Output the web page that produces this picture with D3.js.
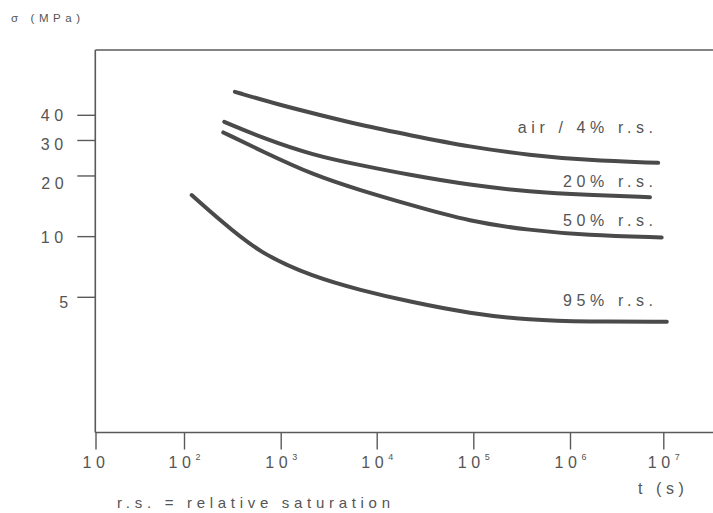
<!DOCTYPE html>
<html>
<head>
<meta charset="utf-8">
<script src="https://cdn.jsdelivr.net/npm/d3@7"></script>
<style>
  html, body { margin: 0; padding: 0; background: #fff; }
  svg { display: block; font-family: "Liberation Sans", Arial, sans-serif; }
  .lbl { fill: #555; letter-spacing: 4.6px; }
</style>
</head>
<body>
<svg id="chart" width="713" height="513"></svg>
<script>
// Creep strength σ versus time t for different relative saturations
const seriesNames = ["air / 4% r.s.", "20% r.s.", "50% r.s.", "95% r.s."];

const airTime   = [336, 984, 2570, 6700, 22100, 92500, 385000, 1.51e6, 8.8e6];
const airStress = [52.0, 44.7, 39.9, 35.6, 31.7, 27.7, 25.2, 23.8, 23.1];

const rs20Time   = [261, 661, 2190, 6700, 22100, 92500, 385000, 1.51e6, 7.2e6];
const rs20Stress = [36.9, 30.6, 25.2, 22.5, 20.1, 17.9, 16.6, 16.0, 15.6];

const rs50Time   = [255, 661, 2190, 6700, 22100, 92500, 385000, 1.51e6, 9.6e6];
const rs50Stress = [32.7, 26.2, 20.1, 16.9, 14.3, 11.8, 10.7, 10.1, 9.85];

const rs95Time   = [120, 236, 611, 2190, 6700, 22100, 92500, 385000, 1.51e6, 1.09e7];
const rs95Stress = [16.0, 12.0, 8.2, 6.28, 5.40, 4.72, 4.13, 3.83, 3.76, 3.76];

const xTickValues = [1e1, 1e2, 1e3, 1e4, 1e5, 1e6, 1e7];
const xTickExponents = ["", "2", "3", "4", "5", "6", "7"];
const yTickValues = [5, 10, 20, 30, 40];

const series = [
  { name: seriesNames[0], t: airTime,  s: airStress },
  { name: seriesNames[1], t: rs20Time, s: rs20Stress },
  { name: seriesNames[2], t: rs50Time, s: rs50Stress },
  { name: seriesNames[3], t: rs95Time, s: rs95Stress }
];

const svg = d3.select("#chart");

// frame of the plotting area
const frameLeft = 95.3, frameTop = 50, frameBottom = 432.5, frameRight = 713;

// hand-ruled log axis: decades are not perfectly even
const x = d3.scaleLog()
  .domain(xTickValues)
  .range([95.5, 184, 280.7, 376.7, 473.3, 570, 663.3]);

const yRef = d3.scaleLog().domain([5, 40]).range([296.8, 114.8]);
const y = d3.scaleLog()
  .domain([yRef.invert(frameBottom), yRef.invert(frameTop)])
  .range([frameBottom, frameTop]);

const axisColor = "#5a5a5a";

// top border line
svg.append("line")
  .attr("x1", frameLeft).attr("x2", frameRight)
  .attr("y1", frameTop).attr("y2", frameTop)
  .attr("stroke", axisColor).attr("stroke-width", 1.6);

// bottom axis
const gx = svg.append("g")
  .attr("transform", `translate(0,${frameBottom})`)
  .call(d3.axisBottom(x).tickValues(xTickValues).tickSize(17).tickSizeOuter(0).tickFormat(() => ""));
gx.select(".domain").attr("d", `M${frameLeft},0H${frameRight}`).attr("stroke", axisColor).attr("stroke-width", 1.6);
gx.selectAll(".tick line").attr("stroke", axisColor).attr("stroke-width", 1.4);
gx.selectAll(".tick text").remove();
gx.selectAll(".tick").each(function(d, i) {
  const txt = d3.select(this).append("text")
    .attr("class", "lbl")
    .attr("y", 35.5)
    .attr("text-anchor", "middle")
    .style("font-size", "16px");
  txt.append("tspan").text("10");
  if (xTickExponents[i]) {
    txt.append("tspan")
      .attr("dy", -8.5)
      .style("font-size", "9px")
      .style("letter-spacing", "0px")
      .text(xTickExponents[i]);
  }
});

// left axis
const yLabelNudge = { 40: [0, 1], 30: [0, 4], 20: [0.5, 7.5], 10: [0, 1], 5: [5, 6] };
const gy = svg.append("g")
  .attr("transform", `translate(${frameLeft},0)`)
  .call(d3.axisLeft(y).tickValues(yTickValues).tickSize(18).tickSizeOuter(0).tickPadding(9.5).tickFormat(d3.format("d")));
gy.select(".domain").attr("d", `M0,${frameTop}V${frameBottom}`).attr("stroke", axisColor).attr("stroke-width", 1.6);
gy.selectAll(".tick line").attr("stroke", axisColor).attr("stroke-width", 1.4);
gy.selectAll(".tick text")
  .attr("class", "lbl")
  .attr("fill", null)
  .style("font-size", "16px")
  .attr("transform", d => `translate(${yLabelNudge[d][0]},${yLabelNudge[d][1]})`);
gx.attr("font-family", null).attr("font-size", null);
gy.attr("font-family", null).attr("font-size", null);

// curves, smoothed through the read-off points
const line = d3.line()
  .x(d => x(d[0]))
  .y(d => y(d[1]))
  .curve(d3.curveBasis);

svg.append("g")
  .selectAll("path")
  .data(series)
  .join("path")
  .attr("d", d => line(d.t.map((t, i) => [t, d.s[i]])))
  .attr("fill", "none")
  .attr("stroke", "#4a4a4a")
  .attr("stroke-width", 4)
  .attr("stroke-linecap", "round")
  .attr("stroke-linejoin", "round");

// curve labels, set above the right end of each curve
const labelRise = [30, 10.5, 11, 15.5];
const labelRight = x(8.7e6);
svg.append("g")
  .selectAll("text")
  .data(series)
  .join("text")
  .attr("class", "lbl")
  .attr("x", labelRight)
  .attr("y", (d, i) => y(d.s[d.s.length - 1]) - labelRise[i])
  .attr("text-anchor", "end")
  .style("font-size", "16px")
  .text(d => d.name);

// axis titles
svg.append("text")
  .attr("class", "lbl")
  .attr("x", 11)
  .attr("y", 21.5)
  .style("font-size", "11.5px")
  .style("letter-spacing", "4.6px")
  .text("σ (MPa)");

svg.append("text")
  .attr("class", "lbl")
  .attr("x", 638)
  .attr("y", 493.5)
  .style("font-size", "16px")
  .text("t (s)");

svg.append("text")
  .attr("class", "lbl")
  .attr("x", 117)
  .attr("y", 507.5)
  .style("font-size", "15px")
  .style("letter-spacing", "4.7px")
  .text("r.s. = relative saturation");
</script>
</body>
</html>
